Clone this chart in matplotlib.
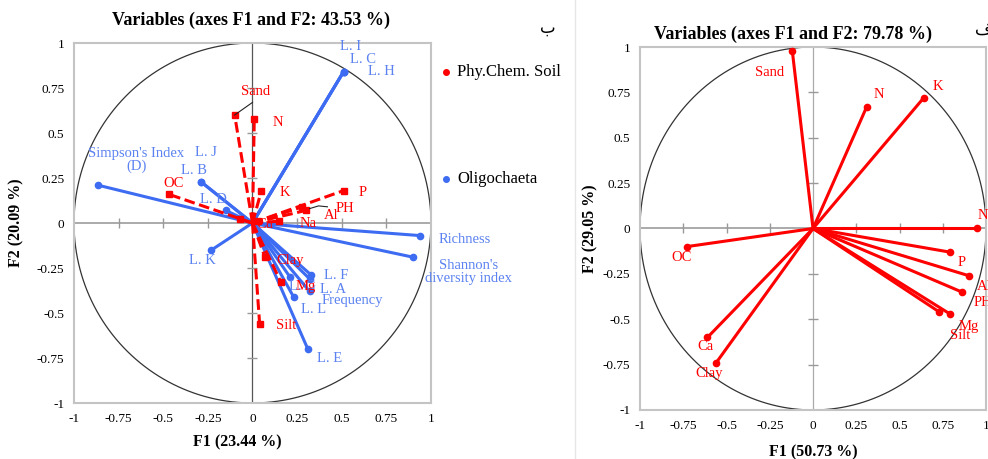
import matplotlib
matplotlib.use('Agg')
import matplotlib.pyplot as plt
from matplotlib.lines import Line2D
import numpy as np

plt.rcParams['font.family'] = ['Liberation Serif', 'DejaVu Sans']

# ---- left panel (b): soil variables, dashed ----
soil_b_names = ['Sand', 'N', 'K', 'P', 'PH', 'Al', 'Na', 'Cu', 'OC', 'Ca', 'Clay', 'Mg', 'Silt']
soil_b_f1 = [-0.10, 0.01, 0.05, 0.51, 0.28, 0.30, 0.15, 0.03, -0.47, -0.07, 0.07, 0.16, 0.04]
soil_b_f2 = [0.60, 0.58, 0.18, 0.18, 0.09, 0.07, 0.01, 0.01, 0.16, 0.02, -0.19, -0.33, -0.56]

# ---- left panel (b): oligochaeta variables, solid ----
oligo_names = ['L. I', 'L. C', 'L. H', "Simpson's Index\n(D)", 'L. J', 'L. B', 'L. D', 'L. K',
               'Richness', "Shannon's\ndiversity index", 'L. F', 'Frequency', 'L. A', 'L. G', 'L. L', 'L. E']
oligo_f1 = [0.51, 0.51, 0.51, -0.865, -0.29, -0.29, -0.15, -0.23,
            0.94, 0.90, 0.33, 0.32, 0.32, 0.21, 0.23, 0.31]
oligo_f2 = [0.84, 0.84, 0.84, 0.21, 0.23, 0.23, 0.07, -0.15,
            -0.07, -0.19, -0.29, -0.31, -0.38, -0.30, -0.41, -0.70]

# ---- right panel (alef): soil variables ----
soil_a_names = ['Sand', 'N', 'K', 'Na', 'P', 'Al', 'PH', 'Mg', 'Silt', 'OC', 'Ca', 'Clay']
soil_a_f1 = [-0.12, 0.31, 0.64, 0.95, 0.79, 0.90, 0.86, 0.79, 0.73, -0.73, -0.61, -0.56]
soil_a_f2 = [0.98, 0.67, 0.72, 0.00, -0.13, -0.26, -0.35, -0.47, -0.46, -0.10, -0.60, -0.74]

# label positions (data coords)
soil_b_lab = {'Sand': (0.02, 0.73), 'N': (0.14, 0.56), 'K': (0.18, 0.17), 'P': (0.62, 0.17),
              'PH': (0.52, 0.08), 'Al': (0.44, 0.04), 'Na': (0.31, 0.0), 'Cu': (0.07, -0.01),
              'OC': (-0.44, 0.22), 'Clay': (0.21, -0.21), 'Mg': (0.30, -0.35), 'Silt': (0.19, -0.57)}
oligo_lab = {'L. I': (0.55, 0.98), 'L. C': (0.62, 0.91), 'L. H': (0.72, 0.84),
             "Simpson's Index\n(D)": (-0.65, 0.35), 'L. J': (-0.26, 0.39), 'L. B': (-0.33, 0.29),
             'L. D': (-0.22, 0.13), 'L. K': (-0.28, -0.21), 'Richness': (1.19, -0.09),
             "Shannon's\ndiversity index": (1.21, -0.27), 'L. F': (0.47, -0.29), 'L. A': (0.45, -0.37),
             'Frequency': (0.56, -0.43), 'L. G': (0.28, -0.35), 'L. L': (0.34, -0.48), 'L. E': (0.43, -0.75)}
soil_a_lab = {'Sand': (-0.25, 0.86), 'N': (0.38, 0.74), 'K': (0.72, 0.78), 'Na': (1.0, 0.07),
              'P': (0.86, -0.19), 'Al': (0.99, -0.32), 'PH': (0.98, -0.41), 'Mg': (0.90, -0.54),
              'Silt': (0.85, -0.59), 'OC': (-0.76, -0.16), 'Ca': (-0.62, -0.65), 'Clay': (-0.60, -0.80)}

ticks = [-1, -0.75, -0.5, -0.25, 0, 0.25, 0.5, 0.75, 1]
tick_labels = ['-1', '-0.75', '-0.5', '-0.25', '0', '0.25', '0.5', '0.75', '1']

RED = '#ff0000'
BLUE = '#3d6cf2'
BLUE_TXT = '#5b82f0'
LSIZE = 10.5


def setup_axes(ax, xlabel, ylabel, title, vline_color, xlab_x, xlab_y, ylab_pad,
               title_x, title_pad):
    ax.set_xlim(-1, 1)
    ax.set_ylim(-1, 1)
    for s in ax.spines.values():
        s.set_color('#c4c4c4')
        s.set_linewidth(1.5)
    ax.set_xticks(ticks)
    ax.set_yticks(ticks)
    ax.set_xticklabels(tick_labels, fontsize=9.5)
    ax.set_yticklabels(tick_labels, fontsize=9.5)
    ax.tick_params(length=0, pad=7)
    t = np.linspace(0, 2 * np.pi, 400)
    ax.plot(np.cos(t), np.sin(t), color='#333333', lw=0.9, zorder=1)
    ax.axhline(0, color='#aaaaaa', lw=1.4, zorder=1)
    ax.axvline(0, color=vline_color, lw=0.9, zorder=1)
    minor = [-0.75, -0.5, -0.25, 0.25, 0.5, 0.75]
    ax.plot(minor, [0] * 6, ls='none', marker='|', ms=7, color='#999999', zorder=1)
    ax.plot([0] * 6, minor, ls='none', marker='_', ms=7, color='#999999', zorder=1)
    ax.set_xlabel(xlabel, fontsize=11.5, fontweight='bold')
    ax.xaxis.set_label_coords(xlab_x, xlab_y)
    ax.set_ylabel(ylabel, fontsize=11.5, fontweight='bold', labelpad=ylab_pad)
    ax.set_title(title, fontsize=13, fontweight='bold', pad=title_pad, x=title_x)


fig = plt.figure(figsize=(9.88, 4.59), dpi=100)
axb = fig.add_axes([0.0749, 0.122, 0.3613, 0.7843])
axa = fig.add_axes([0.6478, 0.1068, 0.3502, 0.7908])

# left panel
setup_axes(axb, 'F1 (23.44 %)', 'F2 (20.09 %)', 'Variables (axes F1 and F2: 43.53 %)', '#555555',
           xlab_x=0.457, xlab_y=-0.087, ylab_pad=9, title_x=0.495, title_pad=13)
for x, y in zip(oligo_f1, oligo_f2):
    axb.plot([0, x], [0, y], color=BLUE, lw=2.2, marker='o', ms=4.5, markevery=[1], zorder=3)
for x, y in zip(soil_b_f1, soil_b_f2):
    axb.plot([0, x], [0, y], color=RED, lw=2.2, ls=(0, (3.5, 1.5)), marker='s', ms=5,
             markevery=[1], zorder=4)
for n in oligo_names:
    x, y = oligo_lab[n]
    axb.text(x, y, n, color=BLUE_TXT, fontsize=LSIZE, ha='center', va='center',
             linespacing=1.0, clip_on=False, zorder=5)
for n in soil_b_names:
    if n in soil_b_lab:
        x, y = soil_b_lab[n]
        axb.text(x, y, n, color=RED, fontsize=LSIZE, ha='center', va='center', zorder=6)
axb.plot([0.0, -0.10], [0.67, 0.60], color='#222222', lw=0.8, zorder=5)
axb.plot([0.32, 0.37, 0.42], [0.08, 0.095, 0.09], color='#222222', lw=0.8, zorder=5)

# legend of left panel
fig.add_artist(Line2D([446 / 988], [1 - 72 / 459], marker='o', ms=4, color=RED, ls='none'))
fig.add_artist(Line2D([446 / 988], [1 - 179 / 459], marker='o', ms=4, color=BLUE, ls='none'))
fig.text(457 / 988, 1 - 72 / 459, 'Phy.Chem. Soil', fontsize=12, va='center', ha='left')
fig.text(457 / 988, 1 - 179 / 459, 'Oligochaeta', fontsize=12, va='center', ha='left')
fig.text(548 / 988, 1 - 28 / 459, 'ب', fontsize=12, va='center', ha='center', family='DejaVu Sans')

# right panel
setup_axes(axa, 'F1 (50.73 %)', 'F2 (29.05 %)', 'Variables (axes F1 and F2: 79.78 %)', '#aaaaaa',
           xlab_x=0.5, xlab_y=-0.095, ylab_pad=3, title_x=0.442, title_pad=5.5)
for x, y in zip(soil_a_f1, soil_a_f2):
    axa.plot([0, x], [0, y], color=RED, lw=2.2, marker='o', ms=4.5, markevery=[1], zorder=3)
for n in soil_a_names:
    x, y = soil_a_lab[n]
    axa.text(x, y, n, color=RED, fontsize=LSIZE, ha='center', va='center', clip_on=False, zorder=5)
fig.text(975 / 988, 1 - 30 / 459, 'ف', fontsize=12, va='center', ha='left', family='DejaVu Sans')

# faint divider between the two panels
fig.add_artist(Line2D([575 / 988, 575 / 988], [0.0, 1.0], color='#e6e6e6', lw=1))

plt.savefig('out.png', dpi=100)
